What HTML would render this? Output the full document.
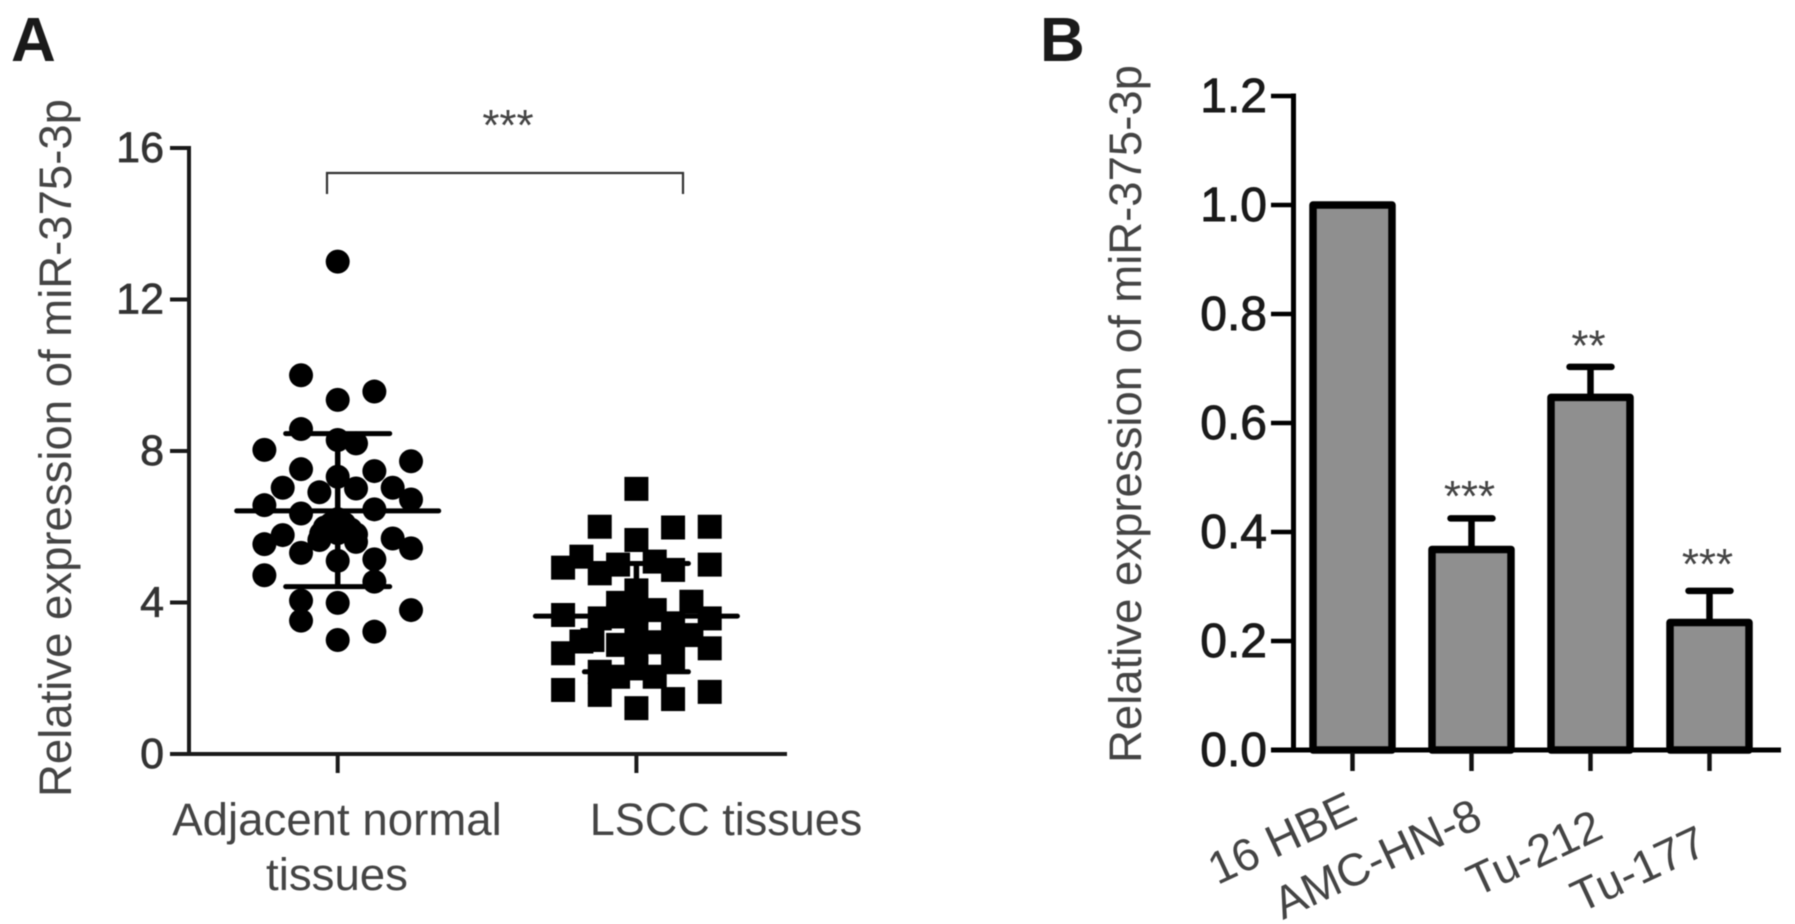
<!DOCTYPE html>
<html lang="en">
<head>
<meta charset="utf-8">
<title>miR-375-3p expression</title>
<style>
html,body{margin:0;padding:0;background:#fff;width:1795px;height:924px;overflow:hidden}
svg{display:block;filter:blur(0.6px)}
text{font-family:"Liberation Sans",Arial,sans-serif}
</style>
</head>
<body>
<svg id="figure" xmlns="http://www.w3.org/2000/svg" width="1795" height="924" viewBox="0 0 1795 924">
  <rect width="1795" height="924" fill="#fff"/>
  <text x="11" y="61" font-size="62" font-weight="bold" fill="#1a1a1a">A</text>
  <text x="1040" y="61" font-size="62" font-weight="bold" fill="#1a1a1a">B</text>
  <text transform="translate(71,797) rotate(-90)" font-size="45" fill="#444" textLength="698" lengthAdjust="spacingAndGlyphs">Relative expression of miR-375-3p</text>
  <text transform="translate(1141,763) rotate(-90)" font-size="45" fill="#444" textLength="698" lengthAdjust="spacingAndGlyphs">Relative expression of miR-375-3p</text>
  <g id="panelA"></g>
  <g id="panelB"></g>
</svg>
<script>
// Panel A data: slot = swarm column of the point, value = expression
const scatterCategories = ["Adjacent normal", "LSCC tissues"];
const scatterTicks = [0, 4, 8, 12, 16];
const normalSlots = [0,-2,2,0,-2,0,1,-4,4,-2,2,0,-3,3,-1,1,4,-4,-2,2,0,0,-0.7,0.7,-3,3,-4,4,-2,-1,1,0,2,-4,2,-2,0,4,-2,2,0,-0.35,0.35,-0.9,1.0];
const normalValues = [13,10,9.57,9.35,8.58,8.29,8.2,8.03,7.73,7.52,7.47,7.32,7.03,7.03,6.91,7.01,6.72,6.57,6.35,6.46,6.2,5.83,5.98,5.93,5.78,5.69,5.54,5.43,5.31,5.65,5.6,5.1,5.14,4.72,4.55,4.05,3.99,3.8,3.52,3.23,3.01,6.08,6.08,5.82,5.8];
const normalMean = 6.42;
const normalUpper = 8.46;
const normalLower = 4.42;
const lsccSlots = [0,-2,2,4,0,-3,-4,4,-1,1,-2,2,0,-1,3,1,-4,-2,4,0,-3,-4,-1,0,1,2,3,4,-2,-2,0,2,1,-4,4,2,0,-1,2,-2.4,0,-1];
const lsccValues = [7,6,5.98,6,5.65,5.21,4.92,5,5,5.08,4.77,4.86,4.32,3.99,4.02,3.8,3.67,3.58,3.58,3.76,2.97,2.66,2.88,3.27,2.95,3.1,3.14,2.79,2.17,1.56,2.26,2.48,2.04,1.69,1.64,1.45,1.21,3.63,3.45,3.01,2.75,2.04];
const lsccMean = 3.64;
const lsccUpper = 5.03;
const lsccLower = 2.17;

// Panel B data
const barCategories = ["16 HBE", "AMC-HN-8", "Tu-212", "Tu-177"];
const barValues = [1.0, 0.368, 0.647, 0.234];
const barErrors = [0, 0.057, 0.056, 0.058];
const barStars = ["", "***", "**", "***"];
const barTicks = ["0.0", "0.2", "0.4", "0.6", "0.8", "1.0", "1.2"];

const NS = "http://www.w3.org/2000/svg";
function make(parent, tag, attrs) {
  const el = document.createElementNS(NS, tag);
  for (const k in attrs) el.setAttribute(k, attrs[k]);
  parent.appendChild(el);
  return el;
}
const panelA = document.getElementById("panelA");
const panelB = document.getElementById("panelB");

// Axis functions
const yA = v => 754 - v * 37.875;
const xA = i => 337.7 + i * 298.7;
const slotW = 18.33;
const yB = v => 750 - v * 545;
const xB = i => 1352.5 + i * 119;

/* ---------- Panel A ---------- */
let el;
el = make(panelA, "line", {x1:189, y1:yA(16)-2, x2:189, y2:yA(0)+2, stroke:"#1a1a1a", "stroke-width":4});


el = make(panelA, "line", {x1:170, y1:yA(0), x2:787, y2:yA(0), stroke:"#1a1a1a", "stroke-width":4});



scatterTicks.forEach(t => {
  const tick = make(panelA, "line", {x1:170, y1:yA(t), x2:189, y2:yA(t), stroke:"#1a1a1a", "stroke-width":4});
  
  
  const lab = make(panelA, "text", {x:164, y:yA(t)+14, "font-size":43, "text-anchor":"end", fill:"#333", stroke:"#333", "stroke-width":0.7});
  lab.textContent = String(t);
  
  
});
scatterCategories.forEach((c, i) => {
  const tick = make(panelA, "line", {x1:xA(i), y1:yA(0), x2:xA(i), y2:773, stroke:"#1a1a1a", "stroke-width":4});
  
  
});
el = make(panelA, "text", {x:337, y:835, "font-size":45.6, "text-anchor":"middle", fill:"#444"});
el.textContent = scatterCategories[0];


el = make(panelA, "text", {x:337, y:890, "font-size":45.6, "text-anchor":"middle", fill:"#444"});
el.textContent = "tissues";


el = make(panelA, "text", {x:726, y:835, "font-size":45, "text-anchor":"middle", fill:"#444"});
el.textContent = scatterCategories[1] ;



// points
normalValues.forEach((v, i) => {
  const c = make(panelA, "circle", {cx:xA(0)+normalSlots[i]*slotW, cy:yA(v), r:12, fill:"#000"});
  
  
});
function errorBars(cx, half, capHalf, mean, up, low, name) {
  [[mean, half], [up, capHalf], [low, capHalf]].forEach(([v, h]) => {
    const l = make(panelA, "line", {x1:cx-h, y1:yA(v), x2:cx+h, y2:yA(v), stroke:"#000", "stroke-width":5, "stroke-linecap":"round"});
    
    
  });
  const s = make(panelA, "line", {x1:cx, y1:yA(up), x2:cx, y2:yA(low), stroke:"#000", "stroke-width":5.5});
  
  
}
errorBars(xA(0), 101, 52, normalMean, normalUpper, normalLower, "normal");
lsccValues.forEach((v, i) => {
  const r = make(panelA, "rect", {x:xA(1)+lsccSlots[i]*slotW-12, y:yA(v)-12, width:24, height:24, fill:"#000"});
  
  
});
errorBars(xA(1), 101, 52, lsccMean, lsccUpper, lsccLower, "lscc");

// significance bracket
el = make(panelA, "polyline", {points:`327,194 327,173 683,173 683,194`, fill:"none", stroke:"#333", "stroke-width":2.2});


el = make(panelA, "text", {x:508, y:140, "font-size":44, "text-anchor":"middle", fill:"#444"});
el.textContent = "***";



/* ---------- Panel B ---------- */
const starGaps = [0, 6.5, 5.5, 11];
barValues.forEach((v, i) => {
  const cx = xB(i);
  if (barErrors[i] > 0) {
    const stem = make(panelB, "line", {x1:cx, y1:yB(v), x2:cx, y2:yB(v+barErrors[i]), stroke:"#000", "stroke-width":6.5});
    
    
    const cap = make(panelB, "line", {x1:cx-21, y1:yB(v+barErrors[i]), x2:cx+21, y2:yB(v+barErrors[i]), stroke:"#000", "stroke-width":6.5, "stroke-linecap":"round"});
    
    
  }
  const bar = make(panelB, "rect", {x:cx-39.5, y:yB(v), width:79, height:yB(0)-yB(v), fill:"#8f8f8f", stroke:"#000", "stroke-width":7.5, "stroke-linejoin":"round"});
  
  
  const tick = make(panelB, "line", {x1:cx, y1:yB(0), x2:cx, y2:771, stroke:"#111", "stroke-width":4.5});
  
  
  if (barStars[i]) {
    const star = make(panelB, "text", {x:cx-2, y:yB(v+barErrors[i])-1-starGaps[i], "font-size":44, "text-anchor":"middle", fill:"#444"});
    star.textContent = barStars[i];
    
    
  }
});
el = make(panelB, "line", {x1:1293.5, y1:yB(1.2)-2.5, x2:1293.5, y2:yB(0)+2.5, stroke:"#000", "stroke-width":5});


el = make(panelB, "line", {x1:1271, y1:yB(0), x2:1781, y2:yB(0), stroke:"#000", "stroke-width":5});


barTicks.forEach(t => {
  const v = parseFloat(t);
  const tick = make(panelB, "line", {x1:1271, y1:yB(v), x2:1293, y2:yB(v), stroke:"#000", "stroke-width":4.5});
  
  
  const lab = make(panelB, "text", {x:1267, y:yB(v)+16, "font-size":48, "text-anchor":"end", fill:"#1a1a1a", stroke:"#1a1a1a", "stroke-width":0.9});
  lab.textContent = t;
  
  
});
const labelOffsets = [[7,48],[13,55],[15,66],[0,82]];
barCategories.forEach((c, i) => {
  const ax = xB(i) + labelOffsets[i][0];
  const ay = yB(0) + labelOffsets[i][1] + 21;
  const lab = make(panelB, "text", {transform:`translate(${ax},${ay}) rotate(-25)`, "font-size":45.5, "text-anchor":"end", fill:"#444"});
  lab.textContent = c;
  
  
});
</script>
</body>
</html>
